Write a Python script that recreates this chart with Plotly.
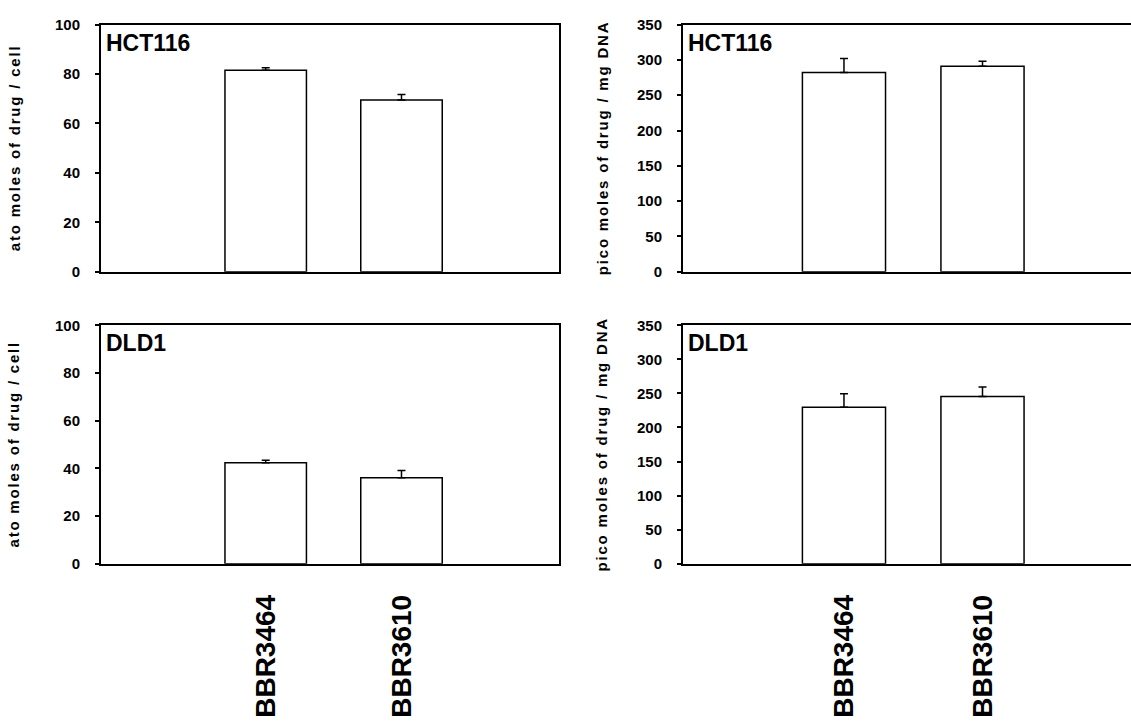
import plotly.graph_objects as go

# ---- data ----
drugs = ["BBR3464", "BBR3610"]
cell_lines = ["HCT116", "DLD1"]

hct116_per_cell = [81.5, 69.5]
hct116_per_cell_err = [1.0, 2.2]
hct116_per_dna = [282.0, 291.0]
hct116_per_dna_err = [20.0, 7.0]

dld1_per_cell = [42.3, 36.1]
dld1_per_cell_err = [1.1, 3.0]
dld1_per_dna = [229.6, 245.5]
dld1_per_dna_err = [19.8, 14.0]

left_title = "ato moles of drug / cell"
right_title = "pico moles of drug / mg DNA"

W, H = 1131, 723
FONT = "Liberation Sans, Arial, sans-serif"


def px_x(p):
    return p / W


def px_y(p):
    return 1 - p / H


panels = [
    (hct116_per_cell, hct116_per_cell_err, "x", "y", (101, 559), (16, 269), [0, 100], 20, cell_lines[0], True, False),
    (hct116_per_dna, hct116_per_dna_err, "x2", "y2", (683, 1131), (16, 269), [0, 350], 50, cell_lines[0], False, False),
    (dld1_per_cell, dld1_per_cell_err, "x3", "y3", (101, 559), (324, 568), [0, 100], 20, cell_lines[1], True, True),
    (dld1_per_dna, dld1_per_dna_err, "x4", "y4", (683, 1131), (324, 568), [0, 350], 50, cell_lines[1], False, True),
]

fig = go.Figure()
annotations = []
layout = {}

for vals, errs, xa, ya, xd, yd, yr, dt, label, is_left, is_bottom in panels:
    fig.add_trace(go.Bar(
        x=drugs, y=vals, xaxis=xa, yaxis=ya, width=0.6,
        marker=dict(color="white", line=dict(color="black", width=1.5)),
        error_y=dict(type="data", symmetric=False, array=errs, arrayminus=[0] * len(errs),
                     color="black", thickness=1.5, width=4),
        showlegend=False,
    ))
    xkey = "xaxis" + xa[1:]
    ykey = "yaxis" + ya[1:]
    xrange = [-1.213, 2.16] if is_left else [-1.162, 2.072]
    layout[xkey] = dict(
        domain=[px_x(xd[0]), px_x(xd[1])], anchor=ya, type="category",
        categoryorder="array", categoryarray=drugs, range=xrange,
        showline=True, linecolor="black", linewidth=2, mirror=True,
        ticks="", showgrid=False, zeroline=False,
        showticklabels=is_bottom, tickangle=-90, ticklabelstandoff=18,
        tickfont=dict(family=FONT, size=28, color="black", weight="bold"),
    )
    layout[ykey] = dict(
        domain=[px_y(yd[1]), px_y(yd[0])], anchor=xa, range=yr, dtick=dt,
        showline=True, linecolor="black", linewidth=2, mirror=is_left,
        ticks="outside", ticklen=4, tickwidth=1.5, tickcolor="black",
        showgrid=False, zeroline=False, ticklabelstandoff=12,
        tickfont=dict(family=FONT, size=15, color="black", weight="bold"),
    )
    annotations.append(dict(
        text=label, xref="paper", yref="paper", x=px_x(xd[0] + 3), y=px_y(yd[0] + 3),
        xanchor="left", yanchor="top", showarrow=False,
        font=dict(family=FONT, size=23, color="black", weight="bold"),
    ))
    title = left_title if is_left else right_title
    tx = 14 if is_left else 602
    annotations.append(dict(
        text='<span style="letter-spacing:1.8px">' + title + "</span>",
        xref="paper", yref="paper", x=px_x(tx), y=px_y((yd[0] + yd[1]) / 2),
        xanchor="center", yanchor="middle", showarrow=False, textangle=-90,
        font=dict(family=FONT, size=15, color="black", weight="bold"),
    ))

fig.update_layout(
    width=W, height=H, margin=dict(l=0, r=0, t=0, b=0),
    paper_bgcolor="white", plot_bgcolor="white",
    annotations=annotations, bargap=0.4,
    **layout,
)

fig.write_html(
    "out.html",
    config={"displayModeBar": False},
    post_script="document.body.style.margin='0';document.body.style.overflow='hidden';",
)
